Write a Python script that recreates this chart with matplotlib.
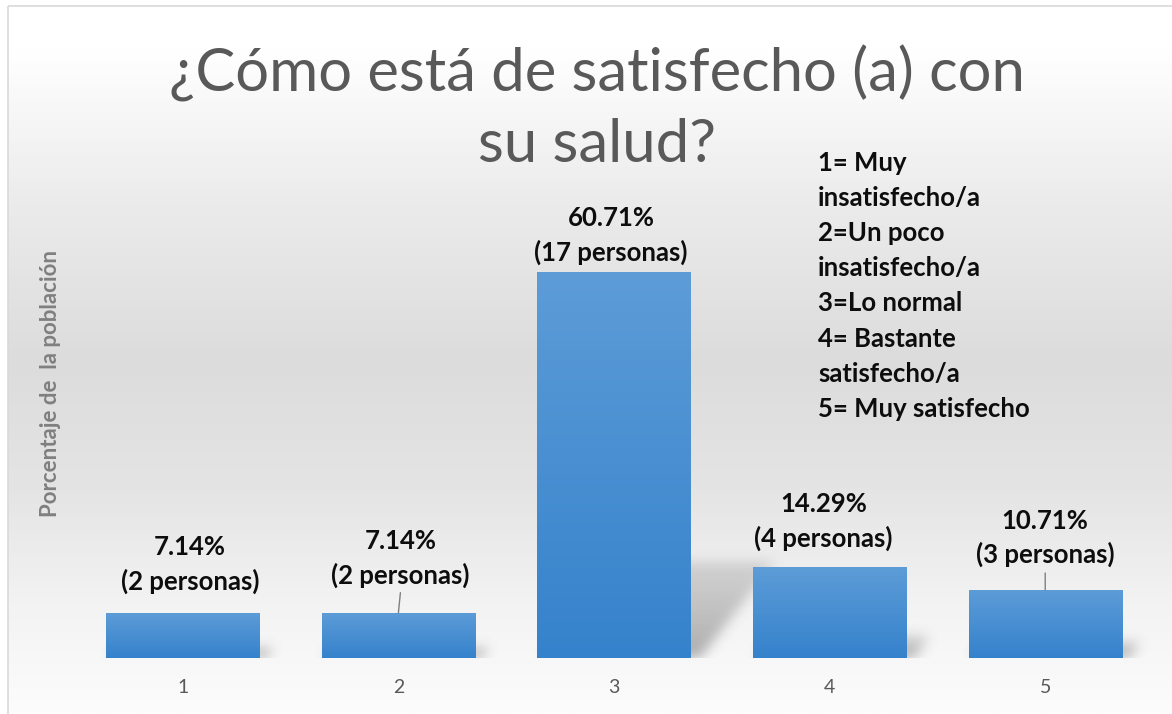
import matplotlib.pyplot as plt
from matplotlib.patches import Rectangle
from matplotlib.path import Path
from matplotlib.colors import LinearSegmentedColormap
import numpy as np

# Data
categories = ['1', '2', '3', '4', '5']
percentages = [7.14, 7.14, 60.71, 14.29, 10.71]
personas = [2, 2, 17, 4, 3]
legend_lines = ['1= Muy', 'insatisfecho/a', '2=Un poco', 'insatisfecho/a',
                '3=Lo normal', '4= Bastante', 'satisfecho/a', '5= Muy satisfecho']

title_lines = ['¿Cómo está de satisfecho (a) con', 'su salud?']
ylabel = 'Porcentaje de  la población'

# label offsets (pixels) from the top centre of each bar, as placed in the original
label_offsets = [(7, 48), (2, 54), (-3, 37), (-6, 46), (0, 52)]
leader_lines = {1: (2, 20), 4: (0, 17)}

plt.rcParams['font.family'] = ['Lato', 'DejaVu Sans']

fig = plt.figure(figsize=(11.72, 7.14), dpi=100)

# background: soft vertical gradient inside a thin border
bg = fig.add_axes([0, 0, 1, 1], zorder=0)
bg.set_xlim(0, 1172)
bg.set_ylim(714, 0)
bg.axis('off')
stops = [(0.0, '#ffffff'), (0.06, '#ffffff'), (0.28, '#ebebeb'), (0.5, '#dcdcdc'),
         (0.68, '#e4e4e4'), (0.85, '#f3f3f3'), (1.0, '#fcfcfc')]
bg_cmap = LinearSegmentedColormap.from_list('bg', stops)
grad = np.linspace(0, 1, 400).reshape(-1, 1)
bg.imshow(grad, cmap=bg_cmap, aspect='auto', extent=[8, 1172, 714, 6], zorder=0)
bg.add_patch(Rectangle((8, 6), 1170, 712, fill=False, ec='#d9d9d9', lw=1.2, zorder=1))

ax = fig.add_axes([0.064, 0.0784, 0.9198, 0.6226], zorder=1)
ax.patch.set_alpha(0)
x = np.arange(len(categories))
width = 0.71
xlim = (-0.5, len(categories) - 0.5)

bar_cmap = LinearSegmentedColormap.from_list('bar', ['#3582cc', '#5d9cd7'])
vgrad = np.linspace(0, 1, 256).reshape(-1, 1)

bars = ax.bar(x, percentages, width=width, color='none', edgecolor='none', zorder=3)

# soft perspective shadows, rasterised on a grid and blurred
sh_top = 24.0
nx, ny = 1080, 160
gx = np.linspace(xlim[0], xlim[1], nx)
gy = np.linspace(0, sh_top, ny)
GX, GY = np.meshgrid(gx, gy)
pts_grid = np.column_stack([GX.ravel(), GY.ravel()])
shade = np.zeros_like(GX)
for b in bars:
    x0, w, h = b.get_x(), b.get_width(), b.get_height()
    dx = 0.37 * h / 60.71
    sh_h = 0.25 * h
    poly = Path([(x0, -1), (x0 + w + 0.02, -1), (x0 + w + dx + 0.02, sh_h),
                 (x0 + dx, sh_h)])
    inside = poly.contains_points(pts_grid).reshape(GX.shape)
    fade = np.clip(1 - GY / max(sh_h, 1e-6), 0, 1) * 0.6 + 0.4
    shade = np.maximum(shade, inside * fade)


def blur(a, sigma):
    r = int(3 * sigma)
    k = np.exp(-0.5 * (np.arange(-r, r + 1) / sigma) ** 2)
    k /= k.sum()
    a = np.apply_along_axis(lambda m: np.convolve(m, k, mode='same'), 1, a)
    a = np.apply_along_axis(lambda m: np.convolve(m, k, mode='same'), 0, a)
    return a


shade = blur(shade, 6)
rgba = np.zeros(shade.shape + (4,))
rgba[..., :3] = 0.45
rgba[..., 3] = shade * 0.55
ax.imshow(rgba, origin='lower', aspect='auto', interpolation='bilinear',
          extent=[xlim[0], xlim[1], 0, sh_top], zorder=2)

for b in bars:
    x0, w, h = b.get_x(), b.get_width(), b.get_height()
    rect = Rectangle((x0, 0), w, h, fc='none', ec='none')
    ax.add_patch(rect)
    im = ax.imshow(vgrad, cmap=bar_cmap, aspect='auto', origin='lower',
                   extent=[x0, x0 + w, 0, h], zorder=3)
    im.set_clip_path(rect)

ax.set_xlim(*xlim)
ax.set_ylim(0, 70)

for i, (p, n) in enumerate(zip(percentages, personas)):
    dx, dy = label_offsets[i]
    ax.annotate(f'{p:.2f}%\n({n} personas)', xy=(x[i], p), xytext=(dx, dy),
                textcoords='offset pixels', ha='center', va='center',
                fontsize=18.5, fontweight='bold', color='#0d0d0d',
                linespacing=1.44, zorder=5)
    if i in leader_lines:
        lx, ly = leader_lines[i]
        ax.annotate('', xy=(x[i], p), xytext=(lx, ly), textcoords='offset pixels',
                    arrowprops=dict(arrowstyle='-', color='#7f7f7f', lw=1,
                                    shrinkA=0, shrinkB=0), zorder=4)

ax.set_xticks(x)
ax.set_xticklabels(categories, fontsize=14, color='#595959')
ax.set_yticks([])
ax.tick_params(axis='x', length=0, pad=15)
for s in ax.spines.values():
    s.set_visible(False)

fig.text(0.043, 0.463, ylabel, rotation=90, ha='center', va='center',
         fontsize=16, fontweight='bold', color='#7f7f7f')

for yy, line in zip([0.897, 0.797], title_lines):
    fig.text(0.509, yy, line, ha='center', va='center', fontsize=43,
             fontweight='normal', color='#595959')

fig.text(0.698, 0.789, '\n'.join(legend_lines), ha='left', va='top',
         fontsize=18.5, fontweight='bold', color='#0d0d0d', linespacing=1.56)

fig.savefig('out.png', dpi=100)
